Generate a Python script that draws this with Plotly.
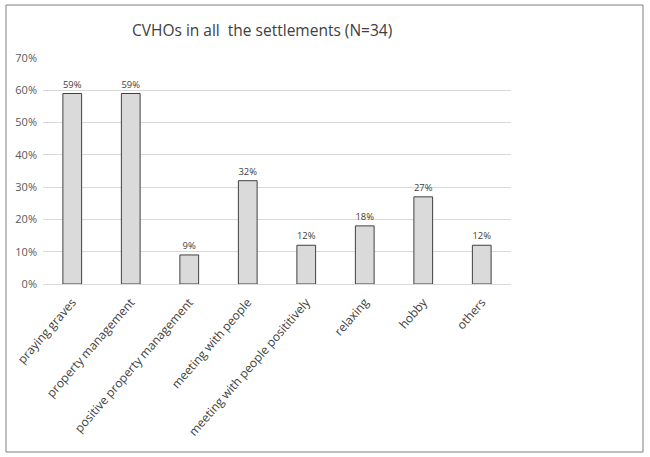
import plotly.graph_objects as go

categories = ["praying graves", "property management", "positive property management",
              "meeting with people", "meeting with people posititively", "relaxing",
              "hobby", "others"]
values = [0.59, 0.59, 0.09, 0.32, 0.12, 0.18, 0.27, 0.12]
labels = ["59%", "59%", "9%", "32%", "12%", "18%", "27%", "12%"]
yticks = [0, 0.1, 0.2, 0.3, 0.4, 0.5, 0.6, 0.7]
yticktext = ["0%", "10%", "20%", "30%", "40%", "50%", "60%", "70%"]

W, H = 650, 457
L, R, T, B = 43, 139, 58, 173
FONT = "Open Sans"

fig = go.Figure(go.Bar(
    x=categories, y=values, text=labels, textposition="outside",
    textfont=dict(size=9.5, color="#404040", family=FONT),
    marker=dict(color="#dadada", line=dict(color="#404040", width=1)),
    width=0.32, cliponaxis=False,
))

pw = W - L - R
ph = H - T - B
def px2paper_x(px): return (px - L) / pw
def px2paper_y(py): return (H - B - py) / ph

fig.update_layout(
    width=W, height=H,
    margin=dict(l=L, r=R, t=T, b=B),
    plot_bgcolor="white", paper_bgcolor="white",
    showlegend=False,
    font=dict(family=FONT, color="#595959"),
    xaxis=dict(tickangle=-49, tickfont=dict(size=12, color="#404040", family=FONT),
               showline=False, showgrid=False, ticks="", ticklabelstandoff=8),
    yaxis=dict(range=[0, 0.7], tickvals=yticks, ticktext=yticktext,
               tickfont=dict(size=11, color="#595959", family=FONT),
               showgrid=True, gridcolor="#d9d9d9", gridwidth=1,
               zeroline=True, zerolinecolor="#d9d9d9", zerolinewidth=1,
               showline=False, ticks="", ticklabelstandoff=5),
    annotations=[dict(text="CVHOs in all  the settlements (N=34)", xref="paper", yref="paper",
                      x=px2paper_x(262), y=px2paper_y(30), showarrow=False,
                      xanchor="center", yanchor="middle",
                      font=dict(size=15.5, color="#404040", family=FONT))],
    shapes=[dict(type="rect", xref="paper", yref="paper",
                 x0=px2paper_x(6), x1=px2paper_x(643), y0=px2paper_y(452), y1=px2paper_y(5),
                 line=dict(color="#7f7f7f", width=1), fillcolor="rgba(0,0,0,0)", layer="below")],
)

fig.write_html("out.html")
